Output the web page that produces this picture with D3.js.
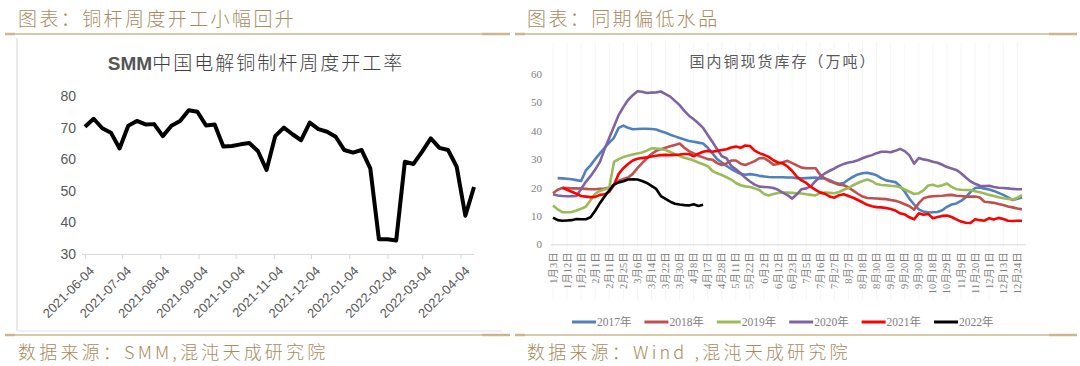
<!DOCTYPE html>
<html><head><meta charset="utf-8">
<script src="https://cdn.jsdelivr.net/npm/d3@7/dist/d3.min.js"></script>
<style>
html,body{margin:0;padding:0;background:#fff;}
svg{display:block;}
</style></head>
<body>
<svg id="c" width="1080" height="366"></svg>
<script>
// ---------- Left chart data ----------
const leftDates = ["2021-06-04","2021-06-11","2021-06-18","2021-06-25","2021-07-02","2021-07-09","2021-07-16","2021-07-23","2021-07-30","2021-08-06","2021-08-13","2021-08-20","2021-08-27","2021-09-03","2021-09-10","2021-09-17","2021-09-24","2021-10-01","2021-10-08","2021-10-15","2021-10-22","2021-10-29","2021-11-05","2021-11-12","2021-11-19","2021-11-26","2021-12-03","2021-12-10","2021-12-17","2021-12-24","2021-12-31","2022-01-07","2022-01-14","2022-01-21","2022-01-28","2022-02-04","2022-02-11","2022-02-18","2022-02-25","2022-03-04","2022-03-11","2022-03-18","2022-03-25","2022-04-01","2022-04-08","2022-04-15"];
const leftValues = [70.3,72.8,69.8,68.4,63.4,70.6,72.1,71.0,71.1,67.3,70.6,72.1,75.5,75.0,70.7,71.0,64.0,64.2,64.7,65.1,62.6,56.6,67.3,70.0,67.9,66.0,71.6,69.5,68.7,67.1,62.9,62.1,62.9,57.1,34.7,34.7,34.3,59.2,58.5,62.4,66.6,63.6,62.9,57.6,42.1,51.2];
const leftTicks = ["2021-06-04","2021-07-04","2021-08-04","2021-09-04","2021-10-04","2021-11-04","2021-12-04","2022-01-04","2022-02-04","2022-03-04","2022-04-04"];
const leftYTicks = [30,40,50,60,70,80];

// ---------- Right chart data ----------
const rightTickLabels = ["1月3日","1月12日","1月21日","2月1日","2月11日","2月25日","3月6日","3月14日","3月22日","3月30日","4月8日","4月17日","4月28日","5月11日","5月22日","6月2日","6月12日","6月23日","7月5日","7月16日","7月27日","8月7日","8月18日","8月30日","9月10日","9月20日","9月30日","10月18日","10月29日","11月9日","11月20日","12月1日","12月13日","12月24日"];
const rightYTicks = [0,10,20,30,40,50,60];
const seriesNames = ["2017年","2018年","2019年","2020年","2021年","2022年"];
const s2017 = [null,23.3,23.2,23.1,22.9,22.6,22.3,26.0,27.8,30.0,32.0,34.0,35.8,37.5,41.0,41.8,41.0,40.5,40.6,40.7,40.7,40.6,40.4,39.8,39.3,38.6,38.0,37.4,36.9,36.4,36.1,35.8,35.5,34.0,32.0,30.0,28.8,27.6,26.5,25.6,24.8,24.5,24.7,24.5,24.1,23.9,23.7,23.6,23.6,23.6,23.5,23.5,23.3,23.2,23.3,23.4,23.5,23.2,23.2,22.6,21.8,21.3,21.6,22.8,23.8,24.6,25.0,25.2,24.8,24.3,23.3,22.5,22.2,21.9,20.5,18.5,16.0,14.0,12.3,11.5,11.2,11.3,11.4,12.0,13.2,14.0,14.4,15.3,16.5,18.4,19.8,20.0,19.6,19.3,18.8,18.1,17.4,16.5,15.6,16.0,16.5];
const s2018 = [18.0,19.2,19.8,19.8,19.7,19.7,19.6,19.5,19.4,19.4,19.5,19.6,20.0,20.9,22.3,23.0,23.5,24.8,26.8,28.6,30.2,31.8,32.9,33.5,34.0,34.5,35.0,35.5,34.0,32.8,32.0,31.2,30.6,30.0,29.8,28.6,27.9,28.5,29.5,29.5,28.4,27.9,28.6,29.3,30.3,30.4,29.3,28.0,28.3,28.9,29.4,28.6,27.8,27.0,26.8,26.8,26.8,24.4,23.1,22.2,21.6,21.0,20.8,20.0,18.9,17.8,16.8,16.3,16.2,16.1,16.0,15.9,15.6,15.3,14.8,14.1,13.4,12.2,14.5,16.2,16.7,16.9,17.0,17.1,17.3,17.4,17.1,17.0,16.8,16.8,16.8,16.5,15.0,14.8,14.6,14.2,13.8,13.3,13.0,12.6,12.3];
const s2019 = [13.7,12.3,11.3,11.3,11.4,11.9,12.5,13.2,15.5,17.8,18.8,19.3,20.0,29.0,30.0,30.7,31.2,31.6,32.0,32.3,33.0,33.8,33.7,33.5,33.2,32.5,31.7,31.1,30.5,30.0,29.5,28.8,28.2,27.5,25.8,25.0,24.4,23.6,22.8,21.6,20.8,20.4,20.2,19.7,19.1,17.7,17.2,17.7,18.1,18.2,18.2,18.1,18.0,17.9,17.6,17.4,17.2,18.1,18.2,18.1,18.0,18.4,19.2,19.8,20.8,21.6,22.3,22.8,22.2,21.2,20.9,20.8,20.6,20.5,20.1,19.3,18.5,17.7,18.0,19.0,20.7,21.0,20.4,20.8,21.4,20.2,19.4,19.2,19.1,19.1,18.7,18.3,17.9,17.4,17.0,16.6,16.2,16.0,15.8,16.4,17.3];
const s2020 = [17.6,17.2,17.0,16.9,16.9,17.0,19.5,22.0,24.0,26.3,29.0,33.5,37.5,41.5,45.5,48.3,50.8,52.5,53.9,53.7,53.3,53.4,53.5,53.8,52.9,52.0,50.5,49.0,47.0,45.3,44.0,42.6,41.0,38.5,36.0,33.5,31.0,30.3,27.6,26.4,25.0,23.4,22.1,21.0,20.3,20.2,20.1,19.8,19.2,18.2,17.3,16.1,17.6,19.4,19.7,20.5,22.3,23.8,25.0,25.9,26.7,27.6,28.3,28.8,29.1,29.6,30.3,30.9,31.4,32.1,32.6,32.6,32.4,32.9,33.6,32.8,31.3,28.4,30.4,29.9,29.6,29.1,28.7,28.0,27.2,26.7,26.2,25.0,23.5,22.2,21.3,20.6,20.5,20.6,20.2,19.9,19.8,19.7,19.5,19.4,19.4];
const s2021 = [null,null,20.0,19.2,18.5,17.8,17.0,16.8,16.6,16.7,17.4,17.6,18.5,21.0,24.8,26.8,28.3,29.5,30.1,30.4,30.6,30.9,31.2,31.4,31.5,31.4,31.5,31.6,31.8,31.8,31.0,31.9,32.6,32.9,32.6,32.9,33.2,33.5,34.1,34.4,34.0,34.8,34.6,33.0,32.1,31.5,30.8,29.6,28.8,28.5,27.4,25.8,23.8,22.5,21.6,20.2,19.2,18.2,17.8,16.8,16.4,17.3,17.6,17.0,16.4,15.6,14.8,13.9,13.4,13.1,13.0,12.8,12.4,11.9,10.9,10.5,9.5,8.8,10.9,10.4,10.7,9.2,9.6,10.0,10.1,9.6,8.8,8.0,7.6,7.5,8.8,8.5,8.3,9.2,8.7,9.3,8.9,8.3,8.2,8.3,8.3];
const s2022 = [9.4,8.5,8.3,8.4,8.5,8.9,8.8,8.8,9.5,11.8,14.5,16.8,19.0,21.0,21.8,22.2,22.8,22.9,22.8,22.3,21.6,20.6,19.5,17.0,16.0,15.0,14.3,14.0,13.8,13.7,14.1,13.5,13.9];
const seriesColors = ["#4f81bd","#c0504d","#9bbb59","#8064a2","#ff0000","#000000"];

const svg = d3.select("#c");
svg.append("rect").attr("width",1080).attr("height",366).attr("fill","#fff");

const tan = "#a98b5d", tanLine = "#cdb68e";
const cjk = "'Noto Sans CJK SC','Noto Sans',sans-serif";

// ---------- Headers / footers ----------
function header(x, txt){
  svg.append("text").attr("x",x).attr("y",26).attr("fill",tan)
    .attr("font-family",cjk).attr("font-size",19).attr("font-weight",300).attr("letter-spacing",2.4).text(txt);
}
header(18,"图表：铜杆周度开工小幅回升");
header(527,"图表：同期偏低水品");
function hline(x1,x2,y){
  svg.append("line").attr("x1",x1).attr("x2",x2).attr("y1",y).attr("y2",y).attr("stroke",tanLine).attr("stroke-width",1.3);
  svg.append("line").attr("x1",x1).attr("x2",x1+10).attr("y1",y).attr("y2",y).attr("stroke",tanLine).attr("stroke-width",2.5);
  svg.append("line").attr("x1",x2-28).attr("x2",x2).attr("y1",y).attr("y2",y).attr("stroke",tanLine).attr("stroke-width",2.5);
}
hline(5,510,34); hline(515,1077,34);
hline(5,510,335); hline(515,1077,335);
function footer(x, txt){
  svg.append("text").attr("x",x).attr("y",359).attr("fill",tan)
    .attr("font-family",cjk).attr("font-size",18).attr("font-weight",300).attr("letter-spacing",3.2).text(txt);
}
footer(18,"数据来源：SMM,混沌天成研究院");
footer(527,"数据来源：Wind ,混沌天成研究院");

// left image frame remnants
svg.append("line").attr("x1",17).attr("x2",17).attr("y1",38).attr("y2",331).attr("stroke","#d6d6d6").attr("stroke-width",1);
svg.append("line").attr("x1",17).attr("x2",502).attr("y1",331).attr("y2",331).attr("stroke","#e2e2e2").attr("stroke-width",1);

// ---------- Left chart ----------
const parse = d3.timeParse("%Y-%m-%d");
const xL = d3.scaleTime().domain([parse(leftDates[0]), parse(leftDates[leftDates.length-1])]).range([85,474]);
const yL = d3.scaleLinear().domain([30,80]).range([254,96]);
const gL = svg.append("g");
gL.append("text").attr("x",256).attr("y",70).attr("text-anchor","middle").attr("fill","#404040")
  .attr("font-family",cjk).attr("font-size",19)
  .call(t=>{ t.append("tspan").attr("font-family","'Liberation Sans Narrow','Liberation Sans',sans-serif").attr("font-weight","bold").attr("fill","#555").text("SMM");
             t.append("tspan").attr("letter-spacing",2).attr("font-weight",300).text("中国电解铜制杆周度开工率"); });
const axL = gL.append("g").attr("transform","translate(0,254)")
  .call(d3.axisBottom(xL).tickValues(leftTicks.map(parse)).tickFormat(d3.timeFormat("%Y-%m-%d")).tickSize(5).tickSizeOuter(0));
axL.select(".domain").attr("stroke","#d9d9d9");
axL.selectAll(".tick line").attr("stroke","#d9d9d9");
axL.selectAll(".tick text").attr("font-family","'Liberation Sans',Arial,sans-serif").attr("font-size",13).attr("fill","#595959")
  .attr("text-anchor","end").attr("dx",0).attr("dy",0).attr("transform","translate(4,12) rotate(-45)");
axL.select(".domain").attr("d","M82,0.5H474");
const ayL = gL.append("g").attr("transform","translate(75,0)").call(d3.axisLeft(yL).tickValues(leftYTicks).tickSize(0));
ayL.select(".domain").remove();
ayL.selectAll("text").attr("font-family","'Liberation Sans',Arial,sans-serif").attr("font-size",14).attr("fill","#595959").attr("dx",4);
gL.append("path").datum(leftValues.map((v,i)=>[parse(leftDates[i]),v]))
  .attr("fill","none").attr("stroke","#000").attr("stroke-width",4).attr("stroke-linejoin","round")
  .attr("d", d3.line().x(d=>xL(d[0])).y(d=>yL(d[1])));

// ---------- Right chart ----------
const nPts = s2018.length;
const xR = d3.scaleLinear().domain([0,nPts-1]).range([553,1022]);
const yR = d3.scaleLinear().domain([0,60]).range([244.3,73.9]);
const gR = svg.append("g");
const tickIdx = rightTickLabels.map((_,i)=>i*3);
// faint vertical grid
gR.selectAll(".vg").data(tickIdx).join("line").attr("x1",d=>xR(d)).attr("x2",d=>xR(d))
  .attr("y1",42).attr("y2",300).attr("stroke","#f6f6f6").attr("stroke-width",1);
gR.append("text").attr("x",783).attr("y",67).attr("text-anchor","middle").attr("fill","#595959")
  .attr("font-family","'Noto Sans CJK SC',serif").attr("font-size",15).attr("letter-spacing",2).text("国内铜现货库存（万吨）");
const axR = gR.append("g").attr("transform","translate(0,244.3)")
  .call(d3.axisBottom(xR).tickValues(tickIdx).tickFormat((d,i)=>rightTickLabels[i]).tickSize(0).tickSizeOuter(0));
axR.select(".domain").attr("stroke","#d9d9d9").attr("d","M551,0.5H1026");
axR.selectAll(".tick text").attr("font-family","'Liberation Serif','Noto Sans CJK SC',serif").attr("font-size",10.5).attr("fill","#808080")
  .attr("text-anchor","end").attr("transform","translate(3,8) rotate(-90)").attr("dy","0").attr("y",0).attr("x",0);
const ayR = gR.append("g").attr("transform","translate(542,0)").call(d3.axisLeft(yR).tickValues(rightYTicks).tickSize(0));
ayR.select(".domain").remove();
ayR.selectAll("text").attr("font-family","'Liberation Serif',serif").attr("font-size",11).attr("fill","#808080").attr("x",0);
const allSeries = [s2017,s2018,s2019,s2020,s2021,s2022];
const lineR = d3.line().defined(d=>d!=null).x((d,i)=>xR(i)).y(d=>yR(d));
allSeries.forEach((s,k)=>{
  gR.append("path").datum(s).attr("fill","none").attr("stroke",seriesColors[k]).attr("stroke-width",2.6)
    .attr("stroke-linejoin","round").attr("d",lineR);
});
// legend
const lg = gR.append("g");
seriesNames.forEach((n,k)=>{
  const x0 = 572 + k*72.4;
  lg.append("line").attr("x1",x0).attr("x2",x0+24).attr("y1",322).attr("y2",322).attr("stroke",seriesColors[k]).attr("stroke-width",3);
  lg.append("text").attr("x",x0+25).attr("y",326).attr("fill","#808080").attr("font-family","'Liberation Serif','Noto Sans CJK SC',serif").attr("font-size",11.5).text(n);
});
</script>
</body></html>
